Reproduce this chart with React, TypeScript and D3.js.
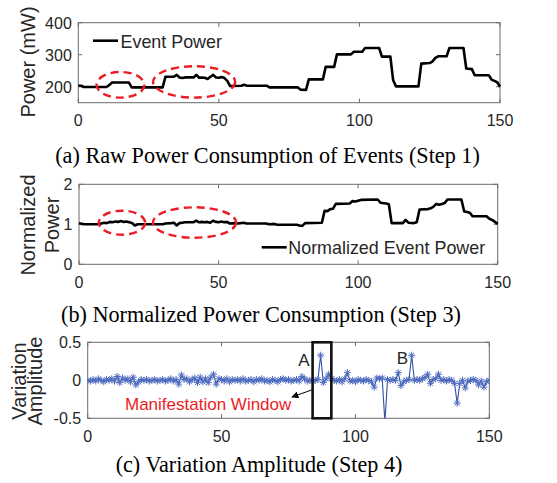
import React from "react";
import * as d3 from "d3";

// ---------- data ----------
const xTicks = [0, 50, 100, 150];

// (a) raw power vertices
const powerX = [0,1,2,10,11,12,18,19,30,31,34,35,36,37,38,41,42,43,44,45,46,47,48,49,50,51,52,53,54,58,59,60,67,68,78,79,81,82,87,88,91,92,97,98,101,102,107,108,111,112,113,121,122,125,126,127,128,131,132,137,138,140,141,146,147,148,149,150];
const powerY = [204,203,199,199,205,213,213,198,198,231,231,237,229,227,229,229,237,228,229,228,224,231,237,229,228,230,227,218,202,203,206,203,203,198,198,191,190,223,223,262,262,301,301,309,309,321,321,294,294,220,201,201,272,274,279,290,295,295,321,321,257,255,236,236,222,218,214,200];
const powerTicks = [200, 300, 400];

// (b) normalized power vertices
const normX = [0,1,2,7,8,9,10,11,12,13,14,15,16,17,18,19,20,21,30,31,33,34,35,36,37,38,41,42,43,44,45,46,47,48,49,50,51,52,53,54,56,57,59,60,67,68,70,71,78,79,80,81,87,88,89,90,91,92,97,98,99,100,101,107,108,110,111,112,116,117,118,120,121,122,125,126,127,128,129,130,131,132,137,138,139,140,141,146,147,148,149,150];
const normY = [1.03,1.01,1.0,1.0,1.02,1.04,1.03,1.06,1.05,1.07,1.06,1.08,1.06,1.07,1.05,1.03,0.97,1.0,1.0,1.02,1.03,1.04,0.97,1.03,1.04,1.05,1.05,1.09,1.05,1.06,1.05,1.06,1.04,1.09,1.06,1.05,1.07,1.05,1.06,1.02,1.03,1.02,1.04,1.02,1.02,1.0,1.01,0.99,0.99,0.97,0.96,1.03,1.04,1.34,1.33,1.38,1.39,1.51,1.52,1.58,1.57,1.59,1.61,1.62,1.54,1.52,1.5,1.03,1.03,1.11,1.04,1.03,1.05,1.37,1.38,1.4,1.44,1.51,1.49,1.51,1.53,1.62,1.62,1.32,1.31,1.29,1.2,1.2,1.14,1.11,1.06,1.01];
const normTicks = [0, 1, 2];

// (c) variation amplitude, one value per event index 0..150
const variation = [
  0.0,-0.01,0.01,-0.01,0.02,0.0,-0.02,0.01,0.0,0.02,
  -0.01,0.05,-0.03,0.03,0.0,0.02,-0.02,0.04,-0.06,-0.02,
  0.01,0.0,0.01,-0.01,0.0,0.01,-0.01,0.0,0.01,-0.01,
  0.0,0.02,-0.01,0.01,-0.05,0.07,0.01,0.02,-0.02,0.01,
  0.03,-0.03,0.04,-0.02,0.02,-0.03,0.04,0.08,-0.05,0.02,
  0.01,-0.01,0.02,-0.02,0.01,0.0,0.01,-0.01,0.02,-0.01,
  0.0,0.01,-0.02,0.01,0.0,0.02,-0.01,0.0,-0.02,0.01,
  0.0,-0.02,0.01,0.02,0.0,0.01,-0.01,0.0,0.01,-0.01,
  0.05,0.02,-0.01,0.0,-0.01,0.0,0.01,0.33,-0.03,0.02,
  0.08,0.02,0.0,-0.01,0.01,-0.02,0.02,0.1,-0.01,0.0,
  -0.02,0.01,0.0,-0.01,0.01,0.0,-0.02,-0.09,0.03,0.02,
  0.03,-0.55,0.01,0.0,0.01,0.0,0.1,-0.07,-0.02,0.0,
  0.01,0.33,0.0,0.01,0.0,0.02,0.04,0.08,-0.04,0.01,
  0.02,0.08,0.0,0.01,-0.01,0.01,0.0,-0.04,-0.3,-0.04,
  0.0,-0.1,-0.01,0.0,0.01,0.0,-0.06,-0.01,-0.09,-0.02,
  0.0
];
const varTicks = [-0.5, 0, 0.5];
const varTickLabels = ["-0.5", "0", "0.5"];
const windowRange = [84, 91];

const SANS = "'Liberation Sans', Arial, Helvetica, sans-serif";
const SERIF = "'Liberation Serif', 'Times New Roman', Times, serif";
const AXIS = "#6b6b6b";
const TXT = "#262626";
const RED = "#ec1c24";
const BLUE = "#3350a8";

type Box = { l: number; r: number; t: number; b: number };

function Frame({ box, x, y, yTicks, yLabels }: any) {
  const tl = 4;
  return (
    <g>
      <rect x={box.l} y={box.t} width={box.r - box.l} height={box.b - box.t} fill="none" stroke={AXIS} strokeWidth={1} />
      {xTicks.map((t) => (
        <g key={"x" + t}>
          <line x1={x(t)} x2={x(t)} y1={box.b} y2={box.b - tl} stroke={AXIS} />
          <line x1={x(t)} x2={x(t)} y1={box.t} y2={box.t + tl} stroke={AXIS} />
          <text x={x(t)} y={box.b + 23.3} textAnchor="middle" fontSize={16} fontFamily={SANS} fill={TXT}>{t}</text>
        </g>
      ))}
      {yTicks.map((t: number, i: number) => (
        <g key={"y" + t}>
          <line x1={box.l} x2={box.l + tl} y1={y(t)} y2={y(t)} stroke={AXIS} />
          <line x1={box.r} x2={box.r - tl} y1={y(t)} y2={y(t)} stroke={AXIS} />
          <text x={box.l - 6.5} y={y(t) + 5.8} textAnchor="end" fontSize={16} fontFamily={SANS} fill={TXT}>{yLabels ? yLabels[i] : t}</text>
        </g>
      ))}
    </g>
  );
}

function Asterisk({ cx, cy }: { cx: number; cy: number }) {
  const s = 3.5;
  const d = 2.5;
  return (
    <path
      d={`M${cx - s},${cy}L${cx + s},${cy}M${cx},${cy - s}L${cx},${cy + s}M${cx - d},${cy - d}L${cx + d},${cy + d}M${cx - d},${cy + d}L${cx + d},${cy - d}`}
      stroke="#4f6cc0"
      strokeWidth={1}
      fill="none"
    />
  );
}

export default function App() {
  // panel a
  const boxA: Box = { l: 78.3, r: 500, t: 22.7, b: 102.7 };
  const xA = d3.scaleLinear().domain([0, 150]).range([boxA.l, boxA.r]);
  const yA = d3.scaleLinear().domain([150, 400]).range([boxA.b, boxA.t]);
  const lineA = d3.line<number>().x((_, i) => xA(powerX[i])).y((v) => yA(v));

  // panel b
  const boxB: Box = { l: 79, r: 497.7, t: 184.3, b: 264.3 };
  const xB = d3.scaleLinear().domain([0, 150]).range([boxB.l, boxB.r]);
  const yB = d3.scaleLinear().domain([0, 2]).range([boxB.b, boxB.t]);
  const lineB = d3.line<number>().x((_, i) => xB(normX[i])).y((v) => yB(v));

  // panel c
  const boxC: Box = { l: 87.7, r: 489.3, t: 342.3, b: 418.3 };
  const xC = d3.scaleLinear().domain([0, 150]).range([boxC.l, boxC.r]);
  const yC = d3.scaleLinear().domain([-0.5, 0.5]).range([boxC.b, boxC.t]);
  const lineC = d3.line<number>().x((_, i) => xC(i)).y((v) => yC(v));

  const ellipse = (x: any, y: any, cx: number, cy: number, rx: number, ry: number, k: string) => (
    <ellipse key={k} cx={x(cx)} cy={y(cy)} rx={Math.abs(x(cx + rx) - x(cx))} ry={Math.abs(y(cy + ry) - y(cy))}
      fill="none" stroke={RED} strokeWidth={2.4} strokeDasharray="8,5" />
  );

  return (
    <div style={{ position: "absolute", left: 0, top: 0 }}>
      <svg width={557} height={483} viewBox="0 0 557 483" style={{ display: "block", background: "#fff" }}>
        <defs>
          <clipPath id="clipC">
            <rect x={boxC.l} y={boxC.t} width={boxC.r - boxC.l} height={boxC.b - boxC.t} />
          </clipPath>
          <marker id="arrowHead" viewBox="0 0 10 10" refX="9" refY="5" markerWidth="7" markerHeight="7" orient="auto">
            <path d="M0,0L10,5L0,10z" fill="#000" />
          </marker>
        </defs>

        {/* ---------- (a) ---------- */}
        <Frame box={boxA} x={xA} y={yA} yTicks={powerTicks} />
        <path d={lineA(powerY) || ""} fill="none" stroke="#000" strokeWidth={2.6} strokeLinejoin="round" />
        {ellipse(xA, yA, 15, 206, 8.5, 40, "a1")}
        {ellipse(xA, yA, 41.2, 215, 14.6, 49, "a2")}
        <line x1={93} x2={118} y1={40.7} y2={40.7} stroke="#000" strokeWidth={2.6} />
        <text x={120.5} y={47.8} fontSize={17.9} fontFamily={SANS} fill={TXT}>Event Power</text>
        <text transform="translate(34.5,62) rotate(-90)" textAnchor="middle" fontSize={20} fontFamily={SANS} fill={TXT}>Power (mW)</text>
        <text x={267.5} y={162.5} textAnchor="middle" fontSize={22.2} fontFamily={SERIF} fill="#000">(a) Raw Power Consumption of Events (Step 1)</text>

        {/* ---------- (b) ---------- */}
        <Frame box={boxB} x={xB} y={yB} yTicks={normTicks} />
        <path d={lineB(normY) || ""} fill="none" stroke="#000" strokeWidth={2.6} strokeLinejoin="round" />
        {ellipse(xB, yB, 15.4, 1.04, 8.3, 0.3, "b1")}
        {ellipse(xB, yB, 41.4, 1.045, 14.9, 0.38, "b2")}
        <line x1={261.7} x2={286.7} y1={247.3} y2={247.3} stroke="#000" strokeWidth={2.6} />
        <text x={288.3} y={253.5} fontSize={17.9} fontFamily={SANS} fill={TXT}>Normalized Event Power</text>
        <text transform="translate(35,225) rotate(-90)" textAnchor="middle" fontSize={20} fontFamily={SANS} fill={TXT}>Normalized</text>
        <text transform="translate(59.3,225) rotate(-90)" textAnchor="middle" fontSize={20} fontFamily={SANS} fill={TXT}>Power</text>
        <text x={261} y={322} textAnchor="middle" fontSize={22.2} fontFamily={SERIF} fill="#000">(b) Normalized Power Consumption (Step 3)</text>

        {/* ---------- (c) ---------- */}
        <Frame box={boxC} x={xC} y={yC} yTicks={varTicks} yLabels={varTickLabels} />
        <g clipPath="url(#clipC)">
          <path d={lineC(variation) || ""} fill="none" stroke={BLUE} strokeWidth={1.1} />
          {variation.map((v, i) => (
            <Asterisk key={i} cx={xC(i)} cy={yC(v)} />
          ))}
        </g>
        <rect x={xC(windowRange[0])} y={yC(0.5)} width={xC(windowRange[1]) - xC(windowRange[0])} height={yC(-0.5) - yC(0.5)}
          fill="none" stroke="#111" strokeWidth={2.6} />
        <text x={304} y={365.7} textAnchor="middle" fontSize={17} fontFamily={SANS} fill={TXT}>A</text>
        <text x={402.5} y={364} textAnchor="middle" fontSize={17} fontFamily={SANS} fill={TXT}>B</text>
        <line x1={311.5} y1={390} x2={292} y2={397} stroke="#000" strokeWidth={1} markerEnd="url(#arrowHead)" />
        <text x={125} y={409.5} fontSize={17} fontFamily={SANS} fill={RED}>Manifestation Window</text>
        <text transform="translate(25.5,381) rotate(-90)" textAnchor="middle" fontSize={20} fontFamily={SANS} fill={TXT}>Variation</text>
        <text transform="translate(41.5,381) rotate(-90)" textAnchor="middle" fontSize={20} fontFamily={SANS} fill={TXT}>Amplitude</text>
        <text x={259} y={472} textAnchor="middle" fontSize={22.2} fontFamily={SERIF} fill="#000">(c) Variation Amplitude (Step 4)</text>
      </svg>
    </div>
  );
}
